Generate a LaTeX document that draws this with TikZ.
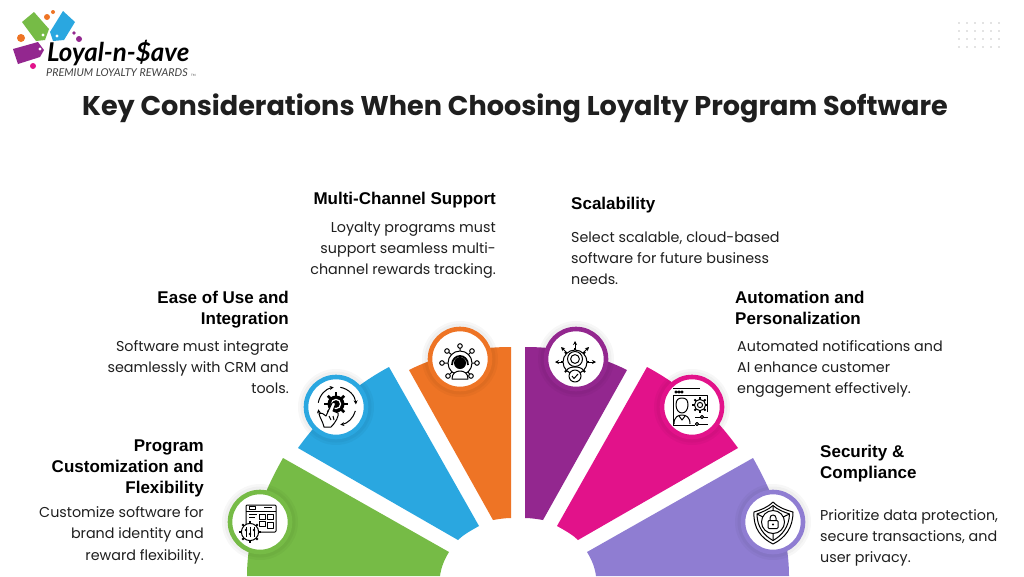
\documentclass[tikz,border=0pt]{standalone}
\usepackage{fontspec}
\setmainfont{Poppins}
\newfontfamily\headfont{Liberation Sans}
\newfontfamily\logofont{Lato}
\usetikzlibrary{arrows.meta}

\definecolor{cOrange}{HTML}{EE7425}
\definecolor{cBlue}{HTML}{2AA7E0}
\definecolor{cGreen}{HTML}{76BB46}
\definecolor{cPurple}{HTML}{93278F}
\definecolor{cPink}{HTML}{E2128A}
\definecolor{cLavender}{HTML}{8F7DD2}
\definecolor{cInk}{HTML}{1F1F1F}

\newcommand{\gearring}[4]{% x, y, radius, line width of teeth
  \foreach \a in {0,45,...,315} {\draw[line width=#4] (#1,#2) ++(\a:#3) -- ++(\a:2.2);}
  \draw[fill=white] (#1,#2) circle (#3);
}

\begin{document}
\begin{tikzpicture}[x=1pt,y=-1pt,
  ring node/.style={circle,fill=white,inner sep=0pt,outer sep=0pt,minimum size=60pt,line width=4.6pt,
    preaction={draw=black,draw opacity=.03,line width=16pt},
    preaction={draw=black,draw opacity=.03,line width=11pt}},
  title text/.style={inner sep=0pt,font=\fontsize{27.1}{32}\selectfont\bfseries,text=cInk},
  head left/.style={inner sep=0pt,anchor=north west,align=left,font=\headfont\fontsize{17}{21}\selectfont\bfseries,text=black},
  head right/.style={inner sep=0pt,anchor=north east,align=right,font=\headfont\fontsize{17}{21}\selectfont\bfseries,text=black},
  body left/.style={inner sep=0pt,anchor=north west,align=left,font=\fontsize{14.3}{21.2}\selectfont,text=cInk},
  body right/.style={inner sep=0pt,anchor=north east,align=right,font=\fontsize{14.3}{21.2}\selectfont,text=cInk},
  icon/.style={draw=black,line width=1pt,line join=round},
  tick/.style={-{Stealth[length=4pt,width=4pt]},line width=1pt}]

\useasboundingbox (0,0) rectangle (1024,576);
\fill[white] (0,0) rectangle (1024,576);

\foreach \x in {959,967,975,983,991,999} \foreach \y in {23,31,39,47}
  \fill[black!22] (\x,\y) circle (.9);

\fill[cGreen] (22,22) -- (34,12) -- (49,29) -- (45,40) -- (36,41) -- cycle;
\fill[cBlue] (63,11) -- (75,22) -- (64,40) -- (53,41) -- (50,32) -- cycle;
\fill[cPurple] (13,49) -- (38,42) -- (44,50) -- (40,57) -- (18,64) -- cycle;
\fill[white] (43,35) circle (1.7) (57,36) circle (1.7) (40,49) circle (1.7);
\fill[cOrange] (21,38) circle (4) (47,17) circle (3) (53,12) circle (2);
\fill[cPurple] (74,33) circle (1.8) (79,39) circle (3);
\fill[cPink] (33,66) circle (3);
\node[inner sep=0pt,anchor=west,font=\logofont\fontsize{25.9}{26}\selectfont\bfseries\itshape] (logoname) at (47,53) {Loyal-n-\$ave};
\node[inner sep=0pt,anchor=west,font=\logofont\fontsize{10.8}{11}\selectfont\itshape,text=black!75] (logotag) at (46,73) {PREMIUM LOYALTY REWARDS};
\node[inner sep=0pt,anchor=west,font=\logofont\fontsize{3}{3}\selectfont,text=black!70] (logotm) at (191,75) {TM};

\node[title text] (title) at (515,108) {Key Considerations When Choosing Loyalty Program Software};

\fill[cOrange] (409,370) .. controls (445,352) and (480,347) .. (511,347) -- (511,518) .. controls (505,518) and (499,519) .. (493,520) -- cycle;
\fill[cBlue] (389,367) .. controls (350,388) and (322,415) .. (298,448) -- (458,540) .. controls (463,535) and (470,531) .. (479,526) -- cycle;
\fill[cGreen] (283,458) .. controls (265,490) and (247,530) .. (247,576) -- (440,576) .. controls (441,568) and (444,560) .. (449,552) -- cycle;
\fill[cPurple] (627,370) .. controls (591,352) and (556,347) .. (525,347) -- (525,518) .. controls (531,518) and (537,519) .. (543,520) -- cycle;
\fill[cPink] (647,367) .. controls (686,388) and (714,415) .. (738,448) -- (578,540) .. controls (573,535) and (566,531) .. (557,526) -- cycle;
\fill[cLavender] (753,458) .. controls (771,490) and (789,530) .. (789,576) -- (596,576) .. controls (595,568) and (592,560) .. (587,552) -- cycle;

\node[ring node,draw=cGreen] (n0) at (260,522) {};
\node[ring node,draw=cBlue] (n1) at (336,407) {};
\node[ring node,draw=cOrange] (n2) at (460,359) {};
\node[ring node,draw=cPurple] (n3) at (576,359) {};
\node[ring node,draw=cPink] (n4) at (692,407) {};
\node[ring node,draw=cLavender] (n5) at (773,522) {};

\begin{scope}[shift={(n0.center)},icon]
\draw[rounded corners=1pt] (-14,-17) rectangle (16,10);
\draw (-14,-11) -- (16,-11);
\draw (-11,-15.5) rectangle (-5,-12.8) (4,-15) -- (12,-15);
\draw (-11,-8) -- (-3,-8) (-11,-5) -- (-5,-5);
\draw (-1,-8) rectangle (5,-3) (7,-8) rectangle (13,-3) (-1,-1) rectangle (5,4) (7,0) rectangle (13,6);
\gearring{-10}{10}{8.6}{2pt}
\draw (-14,5) -- (-14,15) (-10,5) -- (-10,15) (-6,5) -- (-6,15);
\fill (-14,8) circle (1.3) (-10,12) circle (1.3) (-6,8) circle (1.3);
\end{scope}

\begin{scope}[shift={(n1.center)},icon]
\draw[tick] (-170:19) ++(1,-1) arc (-170:-100:19);
\draw[tick] (-80:19) ++(1,-1) arc (-80:-5:19);
\draw[tick] (15:19) ++(1,-1) arc (15:80:19);
\draw[tick] (100:19) ++(1,-1) arc (100:170:19);
\fill (0,-3) circle (8.5);
\foreach \a in {0,45,...,315} {\draw[line width=2.6pt] (0,-3) ++(\a:7) -- ++(\a:4.6);}
\draw[white,line width=1.2pt] (0,-3) circle (4.6);
\draw[fill=white,line join=round] (-4,-4) .. controls (-2.5,-6) and (-.5,-5) .. (-.5,-3) -- (-3,4) -- (2,6) .. controls (3,9) and (0,15) .. (-5,20) -- (-12,20) .. controls (-13,15) and (-16,11) .. (-17,7) .. controls (-15,5) and (-12,7) .. (-10,9) -- cycle;
\draw (-7,9) -- (-5,13) (-3,9) -- (-2,13);
\end{scope}

\begin{scope}[shift={(n2.center)},icon]
\draw (-18,4) -- (-12,4) (-13,-8) -- (-8,-4) (0,-13) -- (0,-8) (12,-8) -- (8,-4) (17,4) -- (12,4) (-12,17) -- (-8,13) (11,17) -- (8,13);
\draw[fill=white] (-18,4) circle (2.3) (-13,-8) circle (2.3) (0,-13) circle (2.3) (12,-8) circle (2.3) (17,4) circle (2.3) (-12,17) circle (2.3) (11,17) circle (2.3);
\draw (0,4) circle (12);
\fill (0,4) circle (6);
\draw[line width=1.8pt] (-8,6) .. controls (-8,-6) and (8,-6) .. (8,6);
\draw[fill=white] (-8,20) .. controls (-8,14) and (-4,12) .. (0,12) .. controls (4,12) and (8,14) .. (8,20) -- cycle;
\end{scope}

\begin{scope}[shift={(n3.center)},icon]
\draw[tick] (-1,-9) -- (-1,-18);
\draw[tick] (-9,-6) -- (-15,-12);
\draw[tick] (7,-6) -- (13,-12);
\draw[tick] (-12,3) -- (-21,3);
\draw[tick] (11,3) -- (20,3);
\gearring{-1}{3}{12}{2pt}
\draw (-1,0) circle (7.5) (-1,0) circle (4.4);
\draw (-9,11) .. controls (-7,7) and (5,7) .. (7,11);
\draw[fill=white] (-1,17) circle (6);
\draw (-4,17) -- (-2,19.5) -- (2,15);
\end{scope}

\begin{scope}[shift={(n4.center)},icon]
\draw (-19,-19) -- (8,-19);
\draw (-16,-15) circle (1.1) (-13,-15) circle (1.1) (-10,-15) circle (1.1);
\draw (-19,18) -- (-19,-12) -- (15,-12) -- (15,5);
\draw (-19,18) -- (3,18);
\draw (-4,-2) .. controls (-4,-7) and (-6,-9) .. (-10,-9) .. controls (-14,-9) and (-16,-7) .. (-16,-2) .. controls (-16,3) and (-13,6) .. (-10,6) .. controls (-7,6) and (-4,3) .. (-4,-2) -- cycle;
\draw (-18,17) .. controls (-18,10) and (-14,8) .. (-10,8) .. controls (-6,8) and (-2,10) .. (-2,17);
\draw (-13,9) -- (-10,13) -- (-7,9);
\gearring{8}{-2}{5.6}{2pt}
\draw (8,-2) circle (2.6);
\draw (3,10) -- (16,10) (3,17) -- (16,17);
\draw[fill=white] (10,10) circle (1.6) (5,17) circle (1.6);
\end{scope}

\begin{scope}[shift={(n5.center)},icon]
\draw (0,-20) .. controls (6,-14) and (13,-12) .. (20,-10) .. controls (20,6) and (12,16) .. (0,22) .. controls (-12,16) and (-20,6) .. (-19,-10) .. controls (-13,-12) and (-6,-14) .. (0,-20) -- cycle;
\draw (0,-16.5) .. controls (5,-12) and (11,-10) .. (16.5,-8) .. controls (16,5) and (9,13.5) .. (0,18.5) .. controls (-9,13.5) and (-16,5) .. (-16,-8) .. controls (-11,-10) and (-5,-12) .. (0,-16.5) -- cycle;
\draw (0,0) circle (11.5);
\draw (0,-16.5) -- (0,-11.5) (0,11.5) -- (0,18.5) (-16,-8) -- (-10,-5) (16.5,-8) -- (10,-5);
\draw[rounded corners=1pt] (-5,-1.5) rectangle (5,6.5);
\draw (-3,-1.5) -- (-3,-4) .. controls (-3,-8) and (3,-8) .. (3,-4) -- (3,-1.5);
\fill (0,2.5) circle (1.2);
\end{scope}

\node[head right] (h2) at (496,191.5) {Multi-Channel Support};
\node[body right] (t2) at (496,221.5) {Loyalty programs must\\support seamless multi-\\channel rewards tracking.};
\node[head left] (h3) at (571,197) {Scalability};
\node[body left] (t3) at (571,231.5) {Select scalable, cloud-based\\software for future business\\needs.};
\node[head right] (h1) at (289,290.5) {Ease of Use and\\Integration};
\node[body right] (t1) at (289,340) {Software must integrate\\seamlessly with CRM and\\tools.};
\node[head left] (h4) at (735,290.5) {Automation and\\Personalization};
\node[body left] (t4) at (737,340) {Automated notifications and\\AI enhance customer\\engagement effectively.};
\node[head right] (h0) at (204,439.5) {Program\\Customization and\\Flexibility};
\node[body right] (t0) at (204,506.5) {Customize software for\\brand identity and\\reward flexibility.};
\node[head left] (h5) at (820,444.5) {Security \&\\Compliance};
\node[body left] (t5) at (820,509.5) {Prioritize data protection,\\secure transactions, and\\user privacy.};

\end{tikzpicture}
\end{document}
